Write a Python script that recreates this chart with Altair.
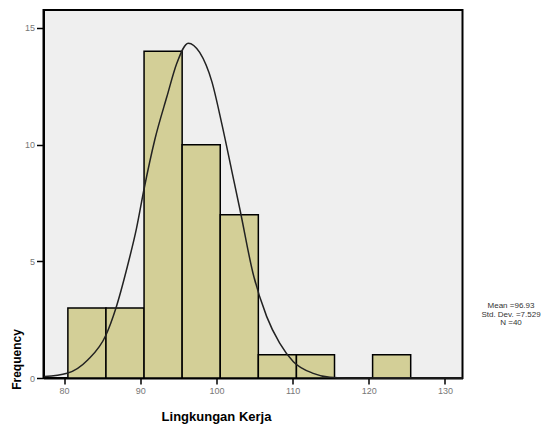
import altair as alt
import pandas as pd

# Histogram bins (Lingkungan Kerja) and counts
bin_start = [80.5, 85.5, 90.5, 95.5, 100.5, 105.5, 110.5, 120.5]
bin_end = [85.5, 90.5, 95.5, 100.5, 105.5, 110.5, 115.5, 125.5]
counts = [3, 3, 14, 10, 7, 1, 1, 1]

# Normal curve, points
curve_x = [77.4, 80.4, 83.1, 85.5, 86.8, 88.3, 89.5, 90.5, 91.9, 93.5, 94.8, 96.3,
           97.8, 99.4, 100.7, 102.0, 103.1, 104.8, 106.6, 108.3, 110.1, 112.7, 114.9, 117.0, 132.3]
curve_y = [0.06, 0.2, 0.77, 1.84, 2.99, 4.77, 6.4, 8.1, 10.2, 12.06, 13.49, 14.35,
           13.95, 12.7, 10.9, 8.9, 7.2, 4.49, 2.63, 1.49, 0.70, 0.2, 0.03, 0.0, 0.0]

x_ticks = [80, 90, 100, 110, 120, 130]
y_ticks = [0, 5, 10, 15]
stats_lines = ["Mean =96.93", "Std. Dev. =7.529", "N =40"]

bars_df = pd.DataFrame({"start": bin_start, "end": bin_end, "count": counts})
curve_df = pd.DataFrame({"x": curve_x, "y": curve_y})

xscale = alt.Scale(domain=[77.3, 132.3], nice=False, zero=False)
yscale = alt.Scale(domain=[0, 15.77], nice=False)

xaxis = alt.Axis(values=x_ticks, title="Lingkungan Kerja", grid=False,
                 labelFont="Liberation Sans", labelFontSize=9, labelColor="#777777",
                 tickColor="black", tickWidth=1.5, tickSize=6, labelPadding=2,
                 domainColor="black", domainWidth=2,
                 titleFont="Liberation Sans", titleFontSize=13, titleFontWeight="bold",
                 titleColor="black", titleX=172.5, titleY=42, titleAlign="center",
                 titleBaseline="alphabetic")
yaxis = alt.Axis(values=y_ticks, title="Frequency", grid=False,
                 labelFont="Liberation Sans", labelFontSize=9, labelColor="#777777",
                 tickColor="black", tickWidth=1.5, tickSize=7, labelPadding=2,
                 domainColor="black", domainWidth=2,
                 titleFont="Liberation Sans", titleFontSize=12, titleFontWeight="bold",
                 titleColor="black", titleX=-23, titleY=349, titleAlign="center",
                 titleBaseline="alphabetic", titleAngle=270)

bars = alt.Chart(bars_df).mark_bar(fill="#D3CF97", stroke="black", strokeWidth=1.5).encode(
    x=alt.X("start:Q", scale=xscale, axis=xaxis),
    x2="end:Q",
    y=alt.Y("count:Q", scale=yscale, axis=yaxis),
    y2=alt.datum(0),
)

curve = alt.Chart(curve_df).mark_line(color="#222222", strokeWidth=1.5,
                                      interpolate="monotone").encode(
    x=alt.X("x:Q", scale=xscale),
    y=alt.Y("y:Q", scale=yscale),
)

stats = alt.Chart(pd.DataFrame({"t": ["\n".join(stats_lines)]})).mark_text(
    font="Liberation Sans", fontSize=8, color="#333333", align="center",
    baseline="middle", lineBreak="\n", lineHeight=8.5
).encode(
    x=alt.value(467.5), y=alt.value(296), text="t:N"
)

chart = alt.layer(bars, curve, stats).properties(
    width=419, height=368,
    autosize=alt.AutoSizeParams(type="none"),
    padding={"left": 35.5, "top": 2, "right": 81, "bottom": 46},
).configure_view(fill="#EFEFEF", stroke="black", strokeWidth=2)

chart.save("out.html", embed_options={"renderer": "svg", "actions": False})
